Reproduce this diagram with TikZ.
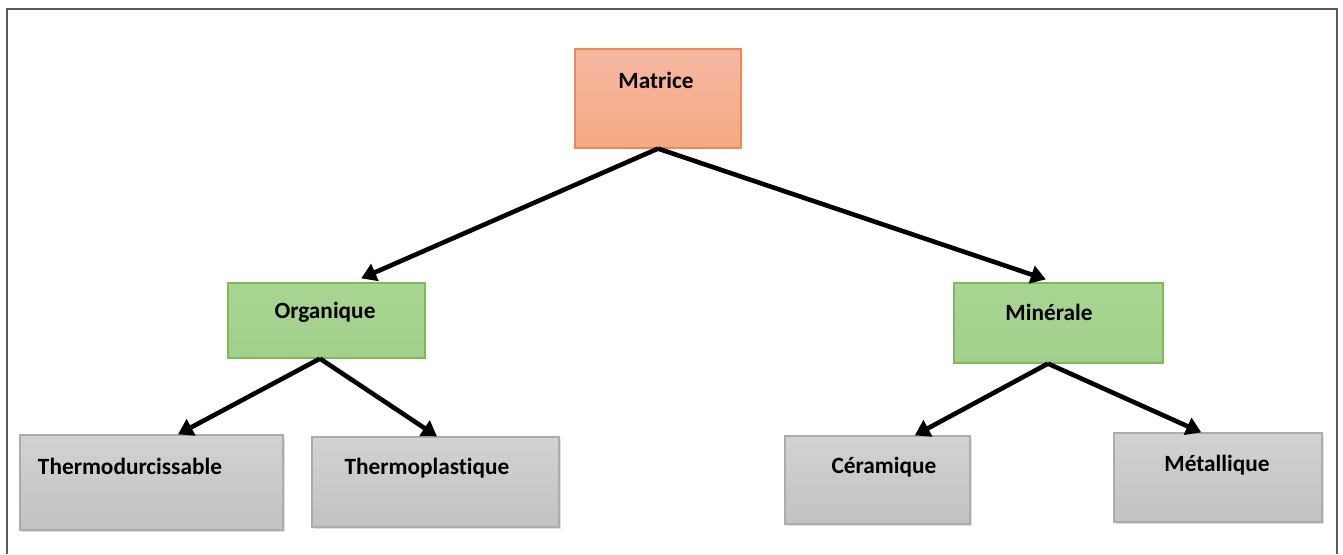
\documentclass[tikz,border=0pt]{standalone}
\usepackage{fontspec}
\setmainfont[Ligatures=NoCommon]{Carlito}
\usetikzlibrary{arrows.meta,calc,shadows}
\definecolor{salmonTop}{HTML}{F5B9A2}
\definecolor{salmonBot}{HTML}{F7A882}
\definecolor{salmonLine}{HTML}{F0875A}
\definecolor{greenTop}{HTML}{A9D592}
\definecolor{greenBot}{HTML}{A2CF8B}
\definecolor{greenLine}{HTML}{7DBB5A}
\definecolor{grayTop}{HTML}{D2D2D2}
\definecolor{grayBot}{HTML}{C2C2C2}
\definecolor{grayLine}{HTML}{ACACAC}
\definecolor{frameGray}{HTML}{5A5A5A}
\tikzset{
  box/.style={rectangle, inner sep=0pt, line width=1.2pt},
  rootbox/.style={box, draw=salmonLine, top color=salmonTop, bottom color=salmonBot},
  midbox/.style={box, draw=greenLine, top color=greenTop, bottom color=greenBot},
  leafbox/.style={box, draw=grayLine, top color=grayTop, bottom color=grayBot,
    drop shadow={opacity=0.25, shadow xshift=2pt, shadow yshift=-2pt}},
  lbl/.style={font=\fontsize{23.3}{28}\selectfont\bfseries, text=black, inner sep=0pt},
  conn/.style={line width=4.6pt, black, -{Triangle[length=15pt,width=18pt]}},
}
\begin{document}
\begin{tikzpicture}[x=1pt,y=-1pt]
\useasboundingbox (0,0) rectangle (1343,554);
\draw[frameGray, line width=2pt] (7,554) -- (7,9) -- (1337,9) -- (1337,554);

% boxes
\node[rootbox, minimum width=166pt, minimum height=99pt] (mat) at (658,98.5) {};
\node[midbox, minimum width=197pt, minimum height=75pt] (org) at (326.5,320.5) {};
\node[midbox, minimum width=209pt, minimum height=80pt] (min) at (1058.5,323) {};
\node[leafbox, minimum width=263pt, minimum height=95pt] (thd) at (151.5,482.5) {};
\node[leafbox, minimum width=247pt, minimum height=90pt] (thp) at (435.5,482) {};
\node[leafbox, minimum width=185pt, minimum height=88pt] (cer) at (877.5,480) {};
\node[leafbox, minimum width=208pt, minimum height=89pt] (met) at (1218,477.5) {};

% labels
\node[lbl] (tmat) at (656,80) {Matrice};
\node[lbl] (torg) at (325,312) {Organique};
\node[lbl] (tmin) at (1049,312) {Minérale};
\node[lbl] (tthd) at (130,466) {Thermodurcissable};
\node[lbl] (tthp) at (427,468) {Thermoplastique};
\node[lbl] (tcer) at (884,467) {Céramique};
\node[lbl] (tmet) at (1217,465) {Métallique};

% connectors
\draw[conn] (mat.south) -- ($(org.north west)!0.675!(org.north east)+(0,-4)$);
\draw[conn] (mat.south) -- ($(min.north west)!0.44!(min.north east)+(0,-3)$);
\draw[conn] ($(org.south west)!0.467!(org.south east)$) -- ($(thd.north west)!0.60!(thd.north east)$);
\draw[conn] ($(org.south west)!0.467!(org.south east)$) -- ($(thp.north west)!0.506!(thp.north east)$);
\draw[conn] ($(min.south west)!0.45!(min.south east)$) -- ($(cer.north west)!0.70!(cer.north east)$);
\draw[conn] ($(min.south west)!0.45!(min.south east)$) -- ($(met.north west)!0.42!(met.north east)$);
\end{tikzpicture}
\end{document}
